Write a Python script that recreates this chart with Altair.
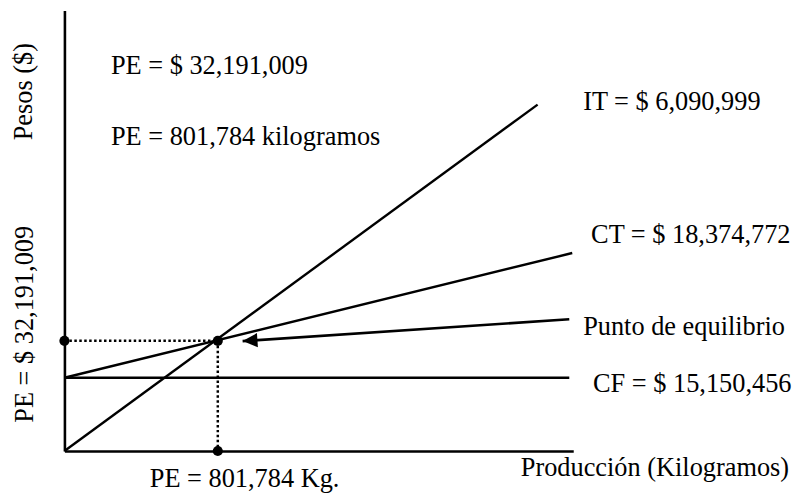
import altair as alt
import pandas as pd

# Schematic units: x = thousands of kg, y = millions of pesos
X_MAX = 2660
Y_MAX = 128.7

pe_kg = 801.784
pe_pesos = 32.191009

# Main lines (IT, CT, CF)
line_names = ["IT", "CT", "CF"]
line_x0 = [0, 0, 0]
line_y0 = [0, 21.4, 21.4]
line_x1 = [2473.7, 2654.8, 2639.3]
line_y1 = [101.2, 57.84, 21.4]

# Dotted guides to the break-even point
guide_x0 = [0, pe_kg]
guide_y0 = [pe_pesos, pe_pesos]
guide_x1 = [pe_kg, pe_kg]
guide_y1 = [pe_pesos, 0]

# Dots
point_x = [0, pe_kg, pe_kg]
point_y = [pe_pesos, pe_pesos, 0]

# Arrow pointing to the break-even point
arrow_x0 = [2639.3]
arrow_y0 = [38.47]
arrow_x1 = [931.5]
arrow_y1 = [32.10]

# Labels
left_text = ["PE = $ 32,191,009", "PE = 801,784 kilogramos", "IT = $ 6,090,999",
             "CT = $ 18,374,772", "Punto de equilibrio", "CF = $ 15,150,456",
             "Producción (Kilogramos)"]
left_x = [243.2, 243.2, 2711.8, 2753.2, 2711.8, 2763.5, 2385.7]
left_y = [112.5, 91.7, 101.8, 63.05, 36.15, 19.67, -4.92]

center_text = ["PE = 801,784 Kg."]
center_x = [941.9]
center_y = [-8.3]

rot_text = ["Pesos ($)", "PE = $ 32,191,009"]
rot_x = [-212.2, -207.0]
rot_y = [104.98, 37.02]

FONT = "Liberation Serif"
FS = 26.6

xs = alt.Scale(domain=[0, X_MAX], nice=False, zero=False)
ys = alt.Scale(domain=[0, Y_MAX], nice=False, zero=False)

ax_style = dict(domain=True, domainColor="black", domainWidth=2.6, ticks=False,
                labels=False, grid=False, title=None)

def X():
    return alt.X("x:Q", scale=xs, axis=alt.Axis(**ax_style))

def Y():
    return alt.Y("y:Q", scale=ys, axis=alt.Axis(**ax_style))

lines_df = pd.DataFrame({"name": line_names, "x": line_x0, "y": line_y0,
                         "x2": line_x1, "y2": line_y1})
guides_df = pd.DataFrame({"x": guide_x0, "y": guide_y0, "x2": guide_x1, "y2": guide_y1})
pts_df = pd.DataFrame({"x": point_x, "y": point_y})
arrow_df = pd.DataFrame({"x": arrow_x0, "y": arrow_y0, "x2": arrow_x1, "y2": arrow_y1})
tip_df = pd.DataFrame({"x": arrow_x1, "y": arrow_y1})
left_df = pd.DataFrame({"t": left_text, "x": left_x, "y": left_y})
center_df = pd.DataFrame({"t": center_text, "x": center_x, "y": center_y})
rot_df = pd.DataFrame({"t": rot_text, "x": rot_x, "y": rot_y})

lines = alt.Chart(lines_df).mark_rule(color="black", strokeWidth=2.4).encode(
    x=X(), y=Y(), x2="x2:Q", y2="y2:Q",
)

guides = alt.Chart(guides_df).mark_rule(color="black", strokeWidth=2.5,
                                        strokeDash=[2.5, 2.5]).encode(
    x=X(), y=Y(), x2="x2:Q", y2="y2:Q",
)

arrow = alt.Chart(arrow_df).mark_rule(color="black", strokeWidth=2.6).encode(
    x=X(), y=Y(), x2="x2:Q", y2="y2:Q",
)

tip = alt.Chart(tip_df).mark_point(shape="M0,0L2,-0.95L2,0.95Z", filled=True, size=225,
                                   angle=356.2, color="black", opacity=1,
                                   strokeWidth=0).encode(x=X(), y=Y())

pts = alt.Chart(pts_df).mark_circle(color="black", size=105, opacity=1).encode(
    x=X(), y=Y(),
)

left_txt = alt.Chart(left_df).mark_text(font=FONT, fontSize=FS, align="left",
                                        baseline="middle", color="black").encode(
    x=X(), y=Y(), text="t:N",
)

center_txt = alt.Chart(center_df).mark_text(font=FONT, fontSize=FS, align="center",
                                            baseline="middle", color="black").encode(
    x=X(), y=Y(), text="t:N",
)

rot_txt = alt.Chart(rot_df).mark_text(font=FONT, fontSize=FS, align="center",
                                      baseline="middle", angle=270, color="black").encode(
    x=X(), y=Y(), text="t:N",
)

chart = alt.layer(lines, guides, arrow, tip, pts, left_txt, center_txt, rot_txt).properties(
    width=514, height=445,
    padding={"left": 57, "top": 0, "right": 222, "bottom": 46},
    autosize=alt.AutoSizeParams(type="none"),
    background="white",
).configure_view(stroke=None)

chart.save("out.html", embed_options={"renderer": "svg", "actions": False})
